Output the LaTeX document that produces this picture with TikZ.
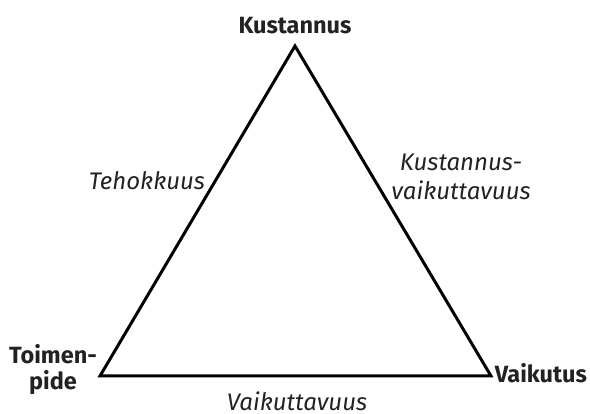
\documentclass[tikz,border=0pt]{standalone}
\usepackage{fontspec}
\setmainfont{Fira Sans}
\definecolor{txt}{HTML}{222222}
\begin{document}
\begin{tikzpicture}[x=1pt,y=-1pt,
  corner/.style={font=\bfseries\fontsize{23.5}{26}\selectfont,text=txt,inner sep=0pt,align=center},
  edgelbl/.style={font=\itshape\fontsize{24}{29}\selectfont,text=txt,inner sep=0pt,align=center},
  side/.style={line width=3pt,line join=miter}]
\useasboundingbox (0,0) rectangle (590,414);
\coordinate (A) at (295,46);
\coordinate (B) at (100,376);
\coordinate (C) at (491,376);
\draw[side] (A) -- (B) -- (C) -- cycle;
\node[corner] (top) at (295,26) {Kustannus};
\node[corner] (left) at (53,370) {Toimen-\\pide};
\node[corner] (right) at (541,373) {Vaikutus};
\node[edgelbl] (teh) at (147,181) {Tehokkuus};
\node[edgelbl] (kv) at (461,177) {Kustannus-\\vaikuttavuus};
\node[edgelbl] (vai) at (297,401) {Vaikuttavuus};
\end{tikzpicture}
\end{document}
